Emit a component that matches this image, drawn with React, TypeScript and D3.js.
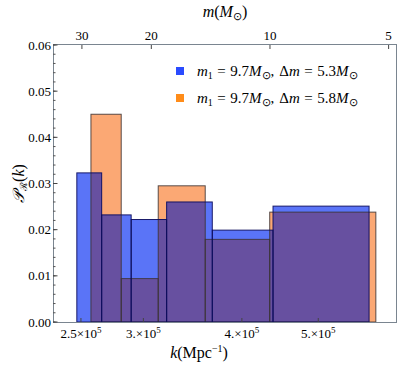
import React from "react";
import * as d3 from "d3";

// bin edges in units of 1e5 Mpc^-1, values of P_R(k)
const blueEdges = [2.47, 2.656, 2.895, 3.211, 3.669, 4.381, 5.8];
const blueValues = [0.0323, 0.0232, 0.0222, 0.026, 0.0199, 0.0251];
const orangeEdges = [2.574, 2.812, 3.133, 3.594, 4.339, 5.916];
const orangeValues = [0.045, 0.0094, 0.0295, 0.0179, 0.0238];

const yTicks = [0, 0.01, 0.02, 0.03, 0.04, 0.05, 0.06];
const xTicks = [2.5, 3, 4, 5];
const xTickMant = ["2.5", "3.", "4.", "5."];
const mTicks = [30, 20, 10, 5];
const legendDm = ["5.3", "5.8"];
const legendColors = ["#2a4bff", "#ff8c1a"];

const W = 399, H = 367;
const L = 53, R = 397, T = 45, B = 322;
const FF = { fontFamily: "Liberation Serif" };

export default function App() {
  const x = d3.scaleLog().domain([2.304, 6.293]).range([L, R]);
  const y = d3.scaleLinear().domain([0, 0.06]).range([B, T]);
  const kOfM = (m: number) => 2.507 * Math.sqrt(30 / m);

  const bins = (edges: number[], vals: number[]) =>
    vals.map((v, i) => ({ l: edges[i], r: edges[i + 1], v }));
  const blue = bins(blueEdges, blueValues);
  const orange = bins(orangeEdges, orangeValues);
  const overlaps: { l: number; r: number; v: number }[] = [];
  blue.forEach((b) =>
    orange.forEach((o) => {
      const l = Math.max(b.l, o.l), r = Math.min(b.r, o.r);
      if (r > l) overlaps.push({ l, r, v: Math.min(b.v, o.v) });
    })
  );
  const minor = d3.range(0, 0.0601, 0.002);

  const rect = (d: { l: number; r: number; v: number }, i: number, fill: string, stroke: string, key: string) => (
    <rect key={key + i} x={x(d.l)} y={y(d.v)} width={x(d.r) - x(d.l)} height={B - y(d.v)}
      fill={fill} stroke={stroke} strokeWidth={1} />
  );

  const legendText = (dm: string) => (
    <>
      <tspan fontStyle="italic">m</tspan>
      <tspan fontSize="10" dy="3">1</tspan>
      <tspan dy="-3" dx="4.5">=</tspan>
      <tspan dx="4.5">9.7</tspan>
      <tspan fontStyle="italic">M</tspan>
      <tspan fontSize="10.5" dy="3">⊙</tspan>
      <tspan dy="-3">,</tspan>
      <tspan dx="5">Δ</tspan>
      <tspan fontStyle="italic">m</tspan>
      <tspan dx="4.5">=</tspan>
      <tspan dx="4.5">{dm}</tspan>
      <tspan fontStyle="italic">M</tspan>
      <tspan fontSize="10.5" dy="3">⊙</tspan>
    </>
  );

  return (
    <svg width={W} height={H} style={{ position: "absolute", left: 0, top: 0, fontFamily: "Liberation Serif" }}>
      <rect x={0} y={0} width={W} height={H} fill="white" />
      {/* fills */}
      {orange.map((d, i) => rect(d, i, "#fba874", "none", "of"))}
      {blue.map((d, i) => rect(d, i, "#5a74f7", "none", "bf"))}
      {overlaps.map((d, i) => rect(d, i, "#6750a0", "none", "pf"))}
      {/* edges */}
      {orange.map((d, i) => rect(d, i, "none", "rgba(60,50,50,0.85)", "os"))}
      {blue.map((d, i) => rect(d, i, "none", "rgba(10,10,90,0.9)", "bs"))}

      {/* frame */}
      <rect x={L + 0.5} y={T - 0.5} width={R - L - 1} height={B - T + 1} fill="none" stroke="#7a8590" strokeWidth={1} />

      {/* y ticks */}
      {minor.map((v, i) => (
        <line key={"ym" + i} x1={L} x2={L + 2.5} y1={y(v)} y2={y(v)} stroke="#555" />
      ))}
      {yTicks.map((v) => (
        <g key={"y" + v}>
          <line x1={L} x2={L + 4.5} y1={y(v)} y2={y(v)} stroke="#444" />
          <text style={FF} x={L - 2} y={y(v) + 4.5} textAnchor="end" fontSize={13}>{v.toFixed(2)}</text>
        </g>
      ))}

      {/* bottom ticks */}
      {xTicks.map((v, i) => (
        <g key={"x" + v}>
          <line x1={x(v)} x2={x(v)} y1={B} y2={B - 4} stroke="#444" />
          <text style={FF} x={x(v)} y={B + 16} textAnchor="middle" fontSize={13}>
            {xTickMant[i] + "×10"}
            <tspan fontSize={9} dy={-5}>5</tspan>
          </text>
        </g>
      ))}

      {/* top ticks */}
      {mTicks.map((m) => (
        <g key={"m" + m}>
          <line x1={x(kOfM(m))} x2={x(kOfM(m))} y1={T} y2={T + 4} stroke="#444" />
          <text style={FF} x={x(kOfM(m))} y={T - 5} textAnchor="middle" fontSize={13}>{m}</text>
        </g>
      ))}

      {/* axis labels */}
      <text style={FF} x={225} y={17} textAnchor="middle" fontSize={16}>
        <tspan fontStyle="italic">m</tspan>(<tspan fontStyle="italic">M</tspan>
        <tspan fontSize={11} dy={3}>⊙</tspan>
        <tspan dy={-3}>)</tspan>
      </text>
      <text style={FF} x={199} y={358} textAnchor="middle" fontSize={16}>
        <tspan fontStyle="italic">k</tspan>(Mpc
        <tspan fontSize={10} dy={-6}>−1</tspan>
        <tspan dy={6}>)</tspan>
      </text>
      <text style={FF} transform={`translate(24,${(T + B) / 2}) rotate(-90)`} textAnchor="middle" fontSize={16}>
        <tspan fontStyle="italic">𝒫</tspan>
        <tspan fontSize={10} dy={3}>ℛ</tspan>
        <tspan dy={-3}>(</tspan>
        <tspan fontStyle="italic">k</tspan>)
      </text>

      {/* legend */}
      {legendDm.map((dm, i) => (
        <g key={"lg" + i}>
          <rect x={176} y={67 + i * 27} width={8} height={8} fill={legendColors[i]} />
          <text style={FF} x={197} y={76 + i * 27} fontSize={15}>{legendText(dm)}</text>
        </g>
      ))}
    </svg>
  );
}
